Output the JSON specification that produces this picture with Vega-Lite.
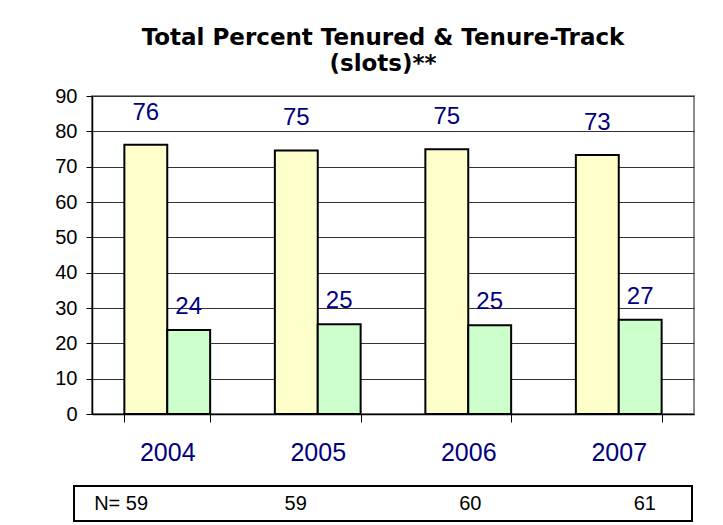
{
  "$schema": "https://vega.github.io/schema/vega-lite/v6.json",
  "background": "white",
  "padding": {"left": 53, "top": 26, "right": 5, "bottom": 0},
  "config": {"font": "Liberation Sans"},
  "vconcat": [
    {
      "bounds": "flush",
      "spacing": 0,
      "hconcat": [
        {
          "width": 18,
          "height": 318,
          "view": {"stroke": null},
          "data": {"values": []},
          "mark": "point"
        },
        {
          "width": 602,
          "height": 318,
          "title": {
            "text": ["Total Percent Tenured & Tenure-Track", "(slots)**"],
            "font": "DejaVu Sans",
            "fontSize": 23,
            "fontWeight": "bold",
            "color": "black",
            "lineHeight": 26,
            "offset": 10,
            "dx": -10,
            "anchor": "middle"
          },
          "view": {"stroke": "#8c8c8c", "strokeWidth": 2},
          "data": {
            "values": [
              {"year": "2004", "series": "Tenured", "value": 76.2, "label": "76"},
              {"year": "2004", "series": "Tenure-Track", "value": 23.8, "label": "24"},
              {"year": "2005", "series": "Tenured", "value": 74.6, "label": "75"},
              {"year": "2005", "series": "Tenure-Track", "value": 25.4, "label": "25"},
              {"year": "2006", "series": "Tenured", "value": 74.9, "label": "75"},
              {"year": "2006", "series": "Tenure-Track", "value": 25.1, "label": "25"},
              {"year": "2007", "series": "Tenured", "value": 73.3, "label": "73"},
              {"year": "2007", "series": "Tenure-Track", "value": 26.7, "label": "27"}
            ]
          },
          "encoding": {
            "x": {
              "field": "year",
              "type": "nominal",
              "scale": {"paddingInner": 0.43, "paddingOuter": 0.215},
              "axis": {
                "title": null,
                "labelAngle": 0,
                "labelColor": "#000080",
                "labelFontSize": 25,
                "labelPadding": 18,
                "tickBand": "extent",
                "tickSize": 8,
                "tickColor": "black",
                "domainColor": "black",
                "domainWidth": 1.5,
                "grid": false,
                "zindex": 1
              }
            },
            "xOffset": {
              "field": "series",
              "type": "nominal",
              "sort": ["Tenured", "Tenure-Track"],
              "scale": {"paddingInner": 0, "paddingOuter": 0}
            },
            "y": {
              "field": "value",
              "type": "quantitative",
              "scale": {"domain": [0, 90], "nice": false},
              "axis": {
                "title": null,
                "values": [0, 10, 20, 30, 40, 50, 60, 70, 80, 90],
                "labelFontSize": 20,
                "labelColor": "black",
                "labelPadding": 9,
                "tickSize": 6,
                "tickColor": "black",
                "domainColor": "black",
                "domainWidth": 1.5,
                "grid": true,
                "gridColor": "#333333",
                "gridWidth": 1,
                "zindex": 0
              }
            }
          },
          "layer": [
            {
              "mark": {"type": "bar", "stroke": "black", "strokeWidth": 2},
              "encoding": {
                "color": {
                  "field": "series",
                  "type": "nominal",
                  "scale": {"domain": ["Tenured", "Tenure-Track"], "range": ["#FFFFCC", "#CCFFCC"]},
                  "legend": null
                }
              }
            },
            {
              "transform": [{"filter": "datum.series === 'Tenured'"}],
              "mark": {"type": "text", "baseline": "alphabetic", "dy": -25, "fontSize": 24, "color": "#000080"},
              "encoding": {"text": {"field": "label"}}
            },
            {
              "transform": [{"filter": "datum.series === 'Tenure-Track'"}],
              "mark": {"type": "text", "baseline": "alphabetic", "dy": -16, "fontSize": 24, "color": "#000080"},
              "encoding": {"text": {"field": "label"}}
            }
          ]
        }
      ]
    },
    {
      "width": 618,
      "height": 35,
      "view": {"stroke": "black", "strokeWidth": 2},
      "data": {
        "values": [
          {"year": "2004", "n": 59, "label": "N= 59"},
          {"year": "2005", "n": 59, "label": "59"},
          {"year": "2006", "n": 60, "label": "60"},
          {"year": "2007", "n": 61, "label": "61"}
        ]
      },
      "mark": {"type": "text", "fontSize": 20, "color": "black"},
      "encoding": {
        "x": {"field": "year", "type": "nominal", "scale": {"type": "point", "padding": 0.27}, "axis": null},
        "text": {"field": "label"}
      }
    }
  ],
  "spacing": 19
}
